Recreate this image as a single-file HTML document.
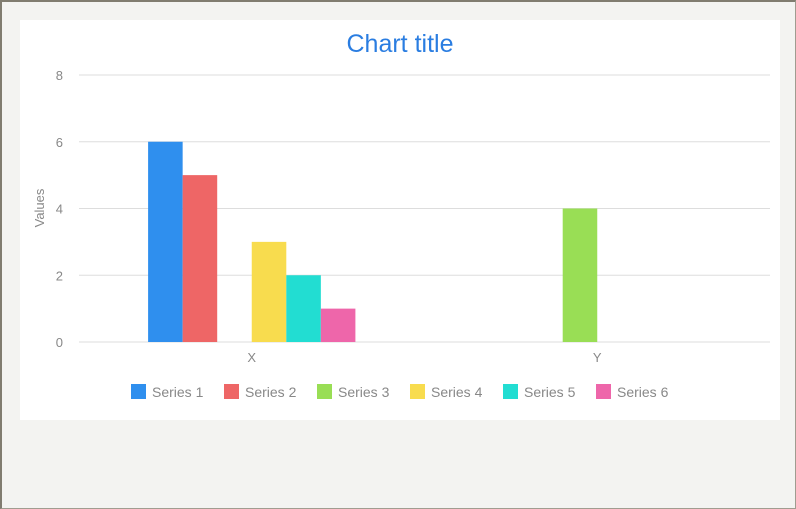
<!DOCTYPE html>
<html><head><meta charset="utf-8"><style>
html,body{margin:0;padding:0}
body{width:796px;height:509px;overflow:hidden;background:#f3f3f1;font-family:"Liberation Sans",Arial,sans-serif}
#frame{position:absolute;left:0;top:0;width:793px;height:506px;border-top:2px solid #807c70;border-left:2px solid #807c70;border-right:1px solid #a09c90;border-bottom:1px solid #a09c90}
svg{position:absolute;left:0;top:0}
</style></head><body>
<div id="frame"></div>
<svg id="chart" width="796" height="509">
<rect x="20" y="20" width="760" height="400" fill="#fff"/>
<text x="400" y="52" text-anchor="middle" font-size="25" fill="#2a7de1">Chart title</text>
<text transform="translate(44,208) rotate(-90)" text-anchor="middle" font-size="13" fill="#888">Values</text>
</svg>
<script>
const categories=["X","Y"];
const seriesNames=["Series 1","Series 2","Series 3","Series 4","Series 5","Series 6"];
const s1=[6,0];
const s2=[5,0];
const s3=[0,4];
const s4=[3,0];
const s5=[2,0];
const s6=[1,0];
const yTicks=[0,2,4,6,8];
const colors=["#2f8fee","#ee6666","#99de55","#f8dc4e","#22ddd2","#ee66aa"];
const series=[s1,s2,s3,s4,s5,s6];
const svg=document.getElementById('chart');
const NS='http://www.w3.org/2000/svg';
const L=79,R=770,T=75,B=342,yMax=8;
const y=v=>B-(v/yMax)*(B-T);
const catW=(R-L)/categories.length;
const barW=catW*0.6/series.length;
const x=(ci,si)=>L+ci*catW+catW*0.2+si*barW;
function mk(tag,a){const e=document.createElementNS(NS,tag);for(const k in a)e.setAttribute(k,a[k]);svg.appendChild(e);return e;}
yTicks.forEach(t=>{
 const g=mk('line',{x1:L,x2:R,y1:y(t),y2:y(t),stroke:'#dddddd','stroke-width':1});
 
 
 const l=mk('text',{x:63,y:y(t)+5,'text-anchor':'end','font-size':13,fill:'#888'});
 l.textContent=t;
 
 
});
categories.forEach((c,ci)=>{
 const l=mk('text',{x:L+catW*(ci+0.5),y:362,'text-anchor':'middle','font-size':13,fill:'#888'});
 l.textContent=c;
 
 
 series.forEach((s,si)=>{
  if(!s[ci])return;
  const r=mk('rect',{x:x(ci,si),y:y(s[ci]),width:barW,height:B-y(s[ci]),fill:colors[si]});
  
  
 });
});
seriesNames.forEach((n,i)=>{
 const lx=131+i*93;
 const sw=mk('rect',{x:lx,y:384,width:15,height:15,fill:colors[i]});
 
 
 const t=mk('text',{x:lx+21,y:397,'font-size':14,fill:'#888'});
 t.textContent=n;
 
 
});
</script>
</body></html>
